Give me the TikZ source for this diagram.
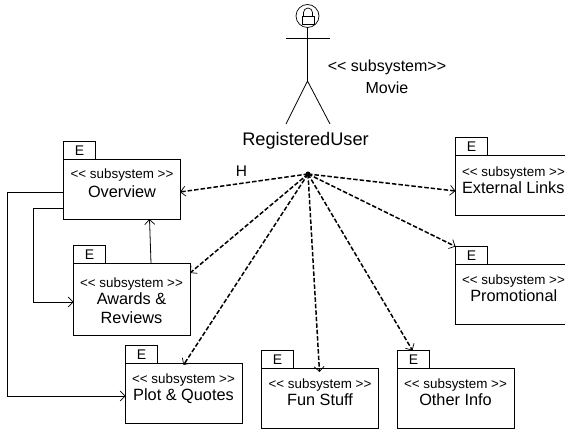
\documentclass[tikz,border=0pt]{standalone}
\usepackage{fontspec}
\setmainfont[Ligatures=NoCommon]{Liberation Sans}
\usetikzlibrary{arrows.meta,calc}
\tikzset{
  pkgbody/.style={draw,line width=0.9pt,rectangle,anchor=north west,minimum width=116.5pt,inner sep=0pt,outer sep=0pt},
  pkgtab/.style={draw,line width=0.9pt,rectangle,anchor=south west,minimum width=32pt,minimum height=17.5pt,inner sep=0pt,outer sep=0pt,font=\fontsize{14}{14}\selectfont},
  stereo/.style={inner sep=0pt,font=\fontsize{13.4}{14}\selectfont},
  pkgname/.style={inner sep=0pt,font=\fontsize{16.3}{18}\selectfont},
  solidlink/.style={draw,line width=0.8pt,-{Straight Barb[length=5pt,width=10pt,line width=0.7pt]}},
  dashlink/.style={draw,line width=1.5pt,dash pattern=on 4.5pt off 2pt,-{Straight Barb[length=5pt,width=10pt,line width=0.7pt]}},
  actorline/.style={draw,line width=0.8pt},
}
% name, x, body top, height
\newcommand{\pkgbox}[4]{%
  \node[pkgbody,minimum height=#4pt] (#1) at (#2,#3) {};
  \node[pkgtab] (#1tab) at (#1.north west) {E};
}
\newcommand{\sysopen}{<{}<}
\newcommand{\sysclose}{>{}>}
\begin{document}
\begin{tikzpicture}[x=1pt,y=-1pt]
\useasboundingbox (0,0) rectangle (565,430);
\clip (0,0) rectangle (565,430);
% actor
\node[circle,draw,line width=0.7pt,minimum size=23pt,inner sep=0pt,outer sep=0pt] (head) at (307.5,16) {};
\node[rectangle,draw,line width=0.7pt,minimum width=12pt,minimum height=8pt,inner sep=0pt,outer sep=0pt] (lock) at (308,20) {};
\draw[line width=0.7pt] ($(lock.north west)+(1.5,0)$) -- ++(0,-3.5) arc[start angle=180,end angle=360,radius=4.5] -- ++(0,3.5);
\coordinate (hip) at (307.5,81);
\coordinate (lfoot) at (286,124);
\coordinate (rfoot) at (330,124);
\coordinate (larm) at (286,38);
\coordinate (rarm) at (330,38);
\draw[actorline] (head.south) -- (hip);
\draw[actorline] (larm) -- (rarm);
\draw[actorline] (lfoot) -- (hip) -- (rfoot);
\node[inner sep=0pt,font=\fontsize{18.2}{18}\selectfont] (user) at (305.5,141) {RegisteredUser};
\node[inner sep=0pt,font=\fontsize{16}{16}\selectfont] (sysa) at (387,67) {\sysopen{} subsystem\sysclose};
\node[inner sep=0pt,font=\fontsize{16}{16}\selectfont] (sysb) at (387,87.5) {Movie};
\node[inner sep=0pt,font=\fontsize{15.5}{16}\selectfont] (hlab) at (241.5,171) {H};
% packages
\pkgbox{ovw}{63.5}{159}{60}
\node[stereo] (ovws) at (122,175.5) {\sysopen{} subsystem \sysclose};
\node[pkgname] (ovwn) at (122,192) {Overview};
\pkgbox{awd}{73.5}{263}{72}
\node[stereo] (awds) at (131.5,284) {\sysopen{} subsystem \sysclose};
\node[pkgname] (awdn) at (131.5,299) {Awards \&};
\node[pkgname] (awdr) at (131.5,318) {Reviews};
\pkgbox{plq}{125.5}{363}{60}
\node[stereo] (plqs) at (183.5,380) {\sysopen{} subsystem \sysclose};
\node[pkgname] (plqn) at (183.5,396) {Plot \& Quotes};
\pkgbox{fun}{261.5}{368}{60}
\node[stereo] (funs) at (320,385) {\sysopen{} subsystem \sysclose};
\node[pkgname] (funn) at (320,400) {Fun Stuff};
\pkgbox{oth}{397.5}{368}{60}
\node[stereo] (oths) at (455.5,385) {\sysopen{} subsystem \sysclose};
\node[pkgname] (othn) at (455.5,400) {Other Info};
\pkgbox{ext}{455.5}{155}{60}
\node[stereo] (exts) at (513.5,173) {\sysopen{} subsystem \sysclose};
\node[pkgname] (extn) at (513.3,188) {External Links};
\pkgbox{prm}{455.5}{264}{60}
\node[stereo] (prms) at (513.5,281) {\sysopen{} subsystem \sysclose};
\node[pkgname] (prmn) at (513.75,296) {Promotional};
% hub
\node[circle,fill,minimum size=5pt,inner sep=0pt,outer sep=0pt] (hub) at (308,174) {};
\draw[dashlink] (hub.center) -- ([yshift=-3pt]ovw.east);
\draw[dashlink] (hub.center) -- ([yshift=-10pt]awd.north east);
\draw[dashlink] (hub.center) -- ([xshift=58pt,yshift=-2pt]plq.north west);
\draw[dashlink] (hub.center) -- ([xshift=58pt,yshift=-4pt]fun.north west);
\draw[dashlink] (hub.center) -- ([xshift=-1pt]othtab.north);
\draw[dashlink] (hub.center) -- ([yshift=-6pt]ext.west);
\draw[dashlink] (hub.center) -- (prmtab.north west);
% solid links
\coordinate (ovwl1) at ($(ovw.north west)+(0,33)$);
\coordinate (ovwl2) at ($(ovw.north west)+(0,49)$);
\coordinate (awdin) at ($(awd.north west)+(0,39)$);
\coordinate (plqin) at ($(plq.north west)+(0,33)$);
\draw[solidlink] (ovwl1) -| (7,396) -- (plqin);
\draw[solidlink] (ovwl2) -| (33.5,302) -- (awdin);
\draw[solidlink] ($(awd.north west)+(77.5,0)$) -- ($(ovw.south west)+(86,0)$);
\end{tikzpicture}
\end{document}
